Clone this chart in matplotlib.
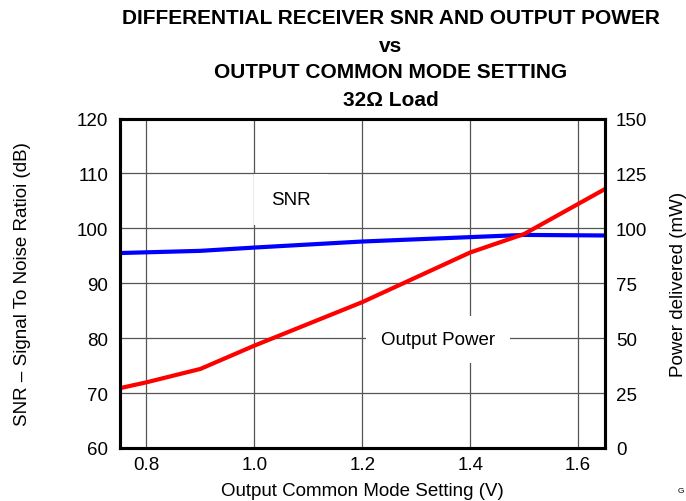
import matplotlib
matplotlib.use("Agg")
import matplotlib.pyplot as plt

plt.rcParams['font.family'] = ['Liberation Sans', 'DejaVu Sans']

# SNR (dB) vs output common mode setting (V)
snr_v = [0.75, 0.9, 1.0, 1.2, 1.4, 1.5, 1.65]
snr_db = [95.5, 95.9, 96.5, 97.6, 98.4, 98.8, 98.7]

# output power (mW)
pwr_v = [0.75, 0.8, 0.9, 1.0, 1.2, 1.4, 1.5, 1.65]
pwr_mw = [27.2, 29.9, 36.0, 46.6, 66.4, 89.0, 97.4, 117.9]

xticks = [0.8, 1.0, 1.2, 1.4, 1.6]
xlabels = ['0.8', '1.0', '1.2', '1.4', '1.6']
left_ticks = [60, 70, 80, 90, 100, 110, 120]
right_ticks = [0, 25, 50, 75, 100, 125, 150]

fs = 13.5

fig = plt.figure(figsize=(6.86, 5.02), dpi=100)
ax = fig.add_axes([119.5/686, 1-449/502, (605-119.5)/686, (449-119.5)/502])
ax2 = ax.twinx()

ax.set_xlim(0.75, 1.65)
ax.set_ylim(60, 120)
ax2.set_ylim(0, 150)
ax.set_xticks(xticks)
ax.set_xticklabels(xlabels)
ax.set_yticks(left_ticks)
ax2.set_yticks(right_ticks)
ax.grid(True, color='#555555', linewidth=0.9)
ax.set_axisbelow(True)

for a in (ax, ax2):
    a.tick_params(length=0, labelsize=fs, pad=8)
    for s in a.spines.values():
        s.set_linewidth(2.2)
ax.tick_params(axis='x', pad=6)

# power on the right scale, snr on the left
ax2.plot(pwr_v, pwr_mw, color='#ff0000', linewidth=3)
ax.plot(snr_v, snr_db, color='#0000ff', linewidth=3)

ax.text(1.068, 105.2, 'SNR', fontsize=fs, ha='center', va='center',
        bbox=dict(facecolor='white', edgecolor='none', boxstyle='square,pad=0.9'))
ax.text(1.34, 79.8, 'Output Power', fontsize=fs, ha='center', va='center',
        bbox=dict(facecolor='white', edgecolor='none', boxstyle='square,pad=0.8'))

ax.set_xlabel('Output Common Mode Setting (V)', fontsize=fs, labelpad=6)
ax.set_ylabel('SNR \u2013 Signal To Noise Ratioi (dB)', fontsize=fs, labelpad=33)
ax2.set_ylabel('Power delivered (mW)', fontsize=fs, labelpad=16)

title = ['DIFFERENTIAL RECEIVER SNR AND OUTPUT POWER', 'vs',
         'OUTPUT COMMON MODE SETTING', '32\u03a9 Load']
for i, t in enumerate(title):
    fig.text(391/686, 1 - [18, 47, 72, 100][i]/502, t, fontsize=15,
             fontweight='bold', ha='center', va='center')

fig.text(681/686, 1 - 492/502, 'G', fontsize=6, ha='center', va='center')

fig.savefig('out.png', dpi=100)
